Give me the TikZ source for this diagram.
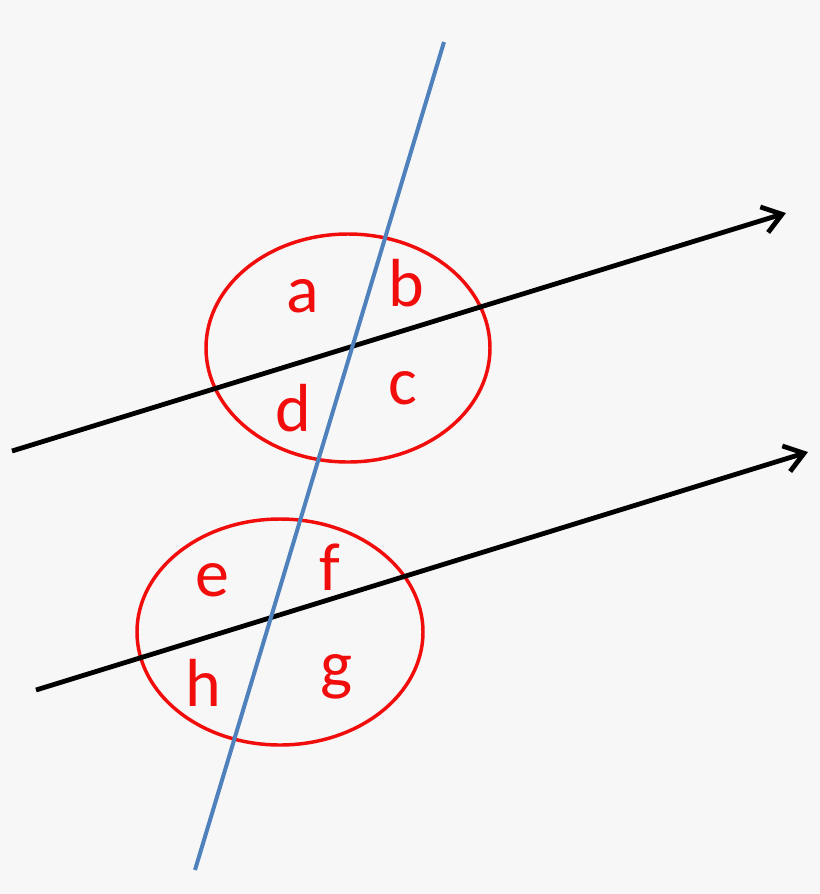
\documentclass[tikz,border=0pt]{standalone}
\usepackage{fontspec}
\setmainfont{Carlito}
\usetikzlibrary{arrows.meta}
\definecolor{bgrey}{rgb}{0.969, 0.969, 0.969}
\definecolor{tblue}{rgb}{0.31, 0.506, 0.741}
\definecolor{ared}{rgb}{0.95, 0.05, 0.05}
\tikzset{pline/.style={line width=3.6pt, color=black, -{Straight Barb[length=14pt, width=20pt, line width=3.6pt]}}}
\tikzset{tline/.style={line width=3pt, color=tblue}}
\tikzset{ering/.style={line width=2.6pt, color=ared}}
\tikzset{alabel/.style={text=ared, font=\fontsize{51}{60}\selectfont}}

\begin{document}
\begin{tikzpicture}[x=0.75pt, y=-0.75pt]
        \fill[bgrey] (0, 0) rectangle (820, 894);
        \useasboundingbox (0, 0) rectangle (820, 894);

        \coordinate (L1s) at (12, 451);
        \coordinate (L1e) at (786, 213);
        \coordinate (L2s) at (36, 690);
        \coordinate (L2e) at (808, 452);
        \coordinate (Ts) at (444, 42);
        \coordinate (Te) at (195, 870);

        \draw [ering] (348, 348) ellipse [x radius=142, y radius=114];
        \draw [ering] (280, 632) ellipse [x radius=143, y radius=113];

        \draw [pline] (L1s) -- (L1e);
        \draw [pline] (L2s) -- (L2e);
        \draw [tline] (Ts) -- (Te);

        \node[alabel] (a) at (303, 296) {a};
        \node[alabel] (b) at (406, 283) {b};
        \node[alabel] (c) at (403, 388) {c};
        \node[alabel] (d) at (293, 408) {d};
        \node[alabel] (e) at (212, 580) {e};
        \node[alabel] (f) at (330, 567) {f};
        \node[alabel] (g) at (337, 677) {g};
        \node[alabel] (h) at (203, 683) {h};
    \end{tikzpicture}
\end{document}
